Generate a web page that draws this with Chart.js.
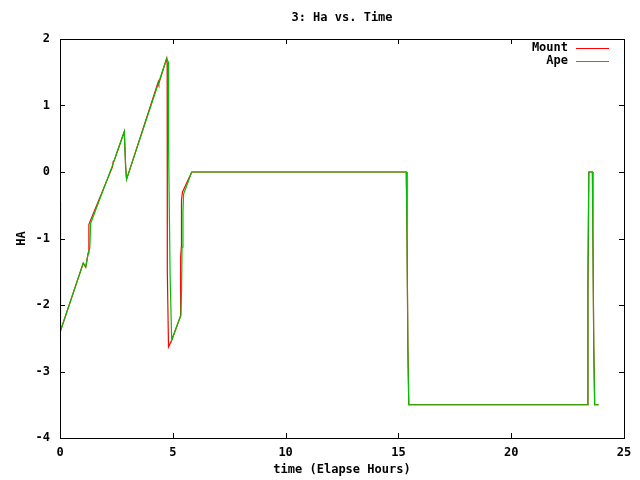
<!DOCTYPE html>
<html>
<head>
<meta charset="utf-8">
<script src="https://cdn.jsdelivr.net/npm/chart.js@4/dist/chart.umd.min.js"></script>
<style>
    html, body { margin: 0; padding: 0; background: #fff; }
    #wrap { width: 640px; height: 480px; }
</style>
</head>
<body>
<div id="wrap"><canvas id="haChart" width="640" height="480"></canvas></div>
<script>
// chart data
const chartTitle = '3: Ha vs. Time';
const xTitle = 'time (Elapse Hours)';
const yTitle = 'HA';
const xTicks = [0, 5, 10, 15, 20, 25];
const yTicks = [-4, -3, -2, -1, 0, 1, 2];

// elapsed hours
const apeTime = [
    0, 0.01, 0.03, 1.03, 1.14, 1.25, 1.32, 1.36, 2.36, 2.85, 2.91, 2.95,
    4.73, 4.79, 4.81, 4.88, 4.95, 5.36, 5.39, 5.41, 5.45, 5.48, 5.84,
    15.35, 15.38, 15.42, 15.46, 23.38, 23.40, 23.44, 23.60, 23.62, 23.66, 23.70, 23.88
];
const apeHa = [
    -0.45, -1.74, -2.39, -1.37, -1.43, -1.22, -1.15, -0.77, 0.13, 0.61, 0.08, -0.11,
    1.71, 1.66, 0.48, -1.55, -2.53, -2.15, -1.75, -1.13, -0.6, -0.33, 0,
    0, -0.87, -2.63, -3.5, -3.5, -1.75, 0, 0, -0.87, -2.63, -3.5, -3.5
];

const mountTime = [
    0, 0.01, 0.03, 1.03, 1.14, 1.25, 1.28, 1.36, 2.33, 2.36, 2.40, 2.85, 2.91, 2.95,
    4.36, 4.38, 4.73, 4.75, 4.755, 4.76, 4.81, 4.95, 5.34, 5.345, 5.35, 5.38, 5.385, 5.43, 5.84,
    15.35, 15.38, 15.42, 15.46, 23.38, 23.40, 23.44, 23.60, 23.62, 23.66, 23.70, 23.88
];
const mountHa = [
    -0.45, -1.74, -2.39, -1.37, -1.43, -1.22, -0.79, -0.72, 0.08, 0.16, 0.17, 0.61, 0.08, -0.11,
    1.36, 1.33, 1.71, 1.63, 0.63, -1.52, -2.63, -2.53, -2.17, -1.72, -1.28, -1.12, -0.42, -0.3, 0,
    0, -0.87, -2.63, -3.5, -3.5, -1.75, 0, 0, -0.87, -2.63, -3.5, -3.5
];

const toPoints = (xs, ys) => xs.map((x, i) => ({ x: x, y: ys[i] }));

const FONT = 'bold 12px "DejaVu Sans Mono", "Liberation Mono", monospace';
const TICK_LEN = 5;

// gnuplot style frame: border box, inward mirrored ticks, labels, legend
const gnuplotFrame = {
    id: 'gnuplotFrame',
    afterDatasetsDraw(chart) {
        const ctx = chart.ctx;
        const area = chart.chartArea;
        const xs = chart.scales.x;
        const ys = chart.scales.y;

        ctx.save();
        ctx.strokeStyle = '#000';
        ctx.lineWidth = 1;
        ctx.beginPath();
        xTicks.forEach(v => {
            const px = Math.round(xs.getPixelForValue(v)) + 0.5;
            ctx.moveTo(px, area.bottom);
            ctx.lineTo(px, area.bottom - TICK_LEN);
            ctx.moveTo(px, area.top);
            ctx.lineTo(px, area.top + TICK_LEN);
        });
        yTicks.forEach(v => {
            const py = Math.round(ys.getPixelForValue(v)) + 0.5;
            ctx.moveTo(area.left, py);
            ctx.lineTo(area.left + TICK_LEN, py);
            ctx.moveTo(area.right, py);
            ctx.lineTo(area.right - TICK_LEN, py);
        });
        ctx.stroke();
        ctx.strokeRect(Math.round(area.left) + 0.5, Math.round(area.top) + 0.5,
            Math.round(area.right - area.left), Math.round(area.bottom - area.top));

        ctx.fillStyle = '#000';
        ctx.font = FONT;
        ctx.textBaseline = 'middle';

        ctx.textAlign = 'right';
        yTicks.forEach(v => {
            ctx.fillText(String(v), area.left - 10, ys.getPixelForValue(v));
        });
        ctx.textAlign = 'center';
        xTicks.forEach(v => {
            ctx.fillText(String(v), xs.getPixelForValue(v), area.bottom + 15);
        });

        const midX = (area.left + area.right) / 2;
        ctx.fillText(chartTitle, midX, 18);
        ctx.fillText(xTitle, midX, 470);

        ctx.save();
        ctx.translate(22, (area.top + area.bottom) / 2);
        ctx.rotate(-Math.PI / 2);
        ctx.fillText(yTitle, 0, 0);
        ctx.restore();

        // legend, in dataset order
        ctx.textAlign = 'right';
        chart.data.datasets.forEach((ds, i) => {
            const y = 48 + i * 13;
            ctx.fillStyle = '#000';
            ctx.fillText(ds.label, 568, y);
            ctx.strokeStyle = ds.borderColor;
            ctx.beginPath();
            ctx.moveTo(576, y + 0.5);
            ctx.lineTo(609, y + 0.5);
            ctx.stroke();
        });
        ctx.restore();
    }
};

new Chart(document.getElementById('haChart'), {
    type: 'scatter',
    data: {
        datasets: [
            {
                label: 'Mount',
                data: toPoints(mountTime, mountHa),
                showLine: true,
                borderColor: '#ff0000',
                borderWidth: 1.2,
                pointRadius: 0,
                tension: 0,
                order: 2
            },
            {
                label: 'Ape',
                data: toPoints(apeTime, apeHa),
                showLine: true,
                borderColor: '#00c000',
                borderWidth: 1.2,
                pointRadius: 0,
                tension: 0,
                order: 1
            }
        ]
    },
    options: {
        responsive: false,
        animation: false,
        layout: { padding: { left: 60, right: 16, top: 39, bottom: 42 } },
        plugins: {
            legend: { display: false },
            title: { display: false },
            tooltip: { enabled: false }
        },
        scales: {
            x: { type: 'linear', min: 0, max: 25, display: false },
            y: { type: 'linear', min: -4, max: 2, display: false }
        }
    },
    plugins: [gnuplotFrame]
});
</script>
</body>
</html>
